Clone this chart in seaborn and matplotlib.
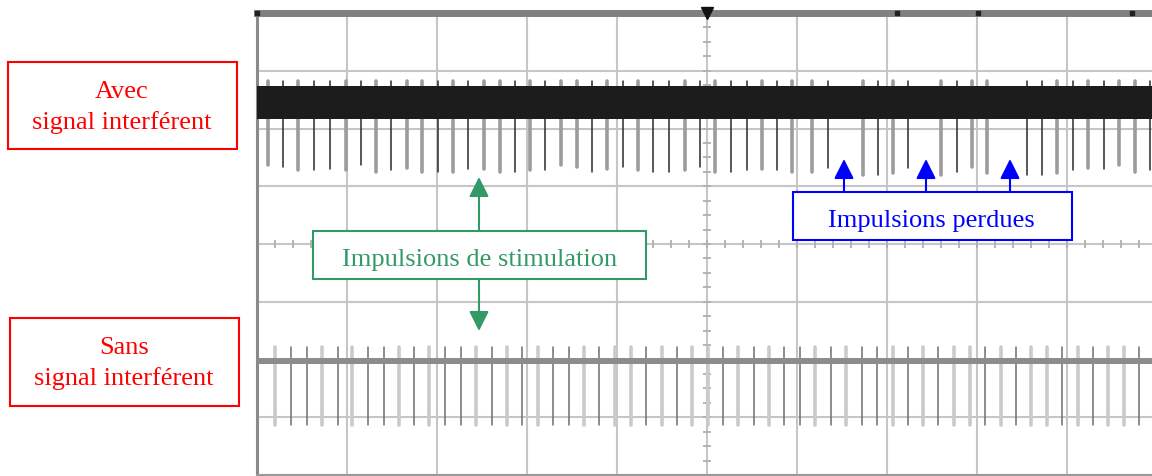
"""
Écran d'oscilloscope : impulsions de stimulation avec / sans signal interférent.
"""

import matplotlib.pyplot as plt
import numpy as np
import pandas as pd
import seaborn as sns
from matplotlib.patches import Rectangle

# ---- données lues sur l'écran (unités : divisions) ----
# trace du haut (avec signal interférent)
top_t = [0.12, 0.29, 0.46, 0.63, 0.81, 0.99, 1.16, 1.32, 1.49, 1.67,
         1.83, 2.01, 2.18, 2.34, 2.52, 2.70, 2.87, 3.03, 3.20, 3.38,
         3.56, 3.72, 3.89, 4.07, 4.23, 4.40, 4.58, 4.76, 4.92, 5.09,
         5.27, 5.44, 5.61, 5.78, 5.94, 6.17, 6.34, 6.73, 6.90, 7.07,
         7.23, 7.60, 7.78, 7.94, 8.11, 8.56, 8.72, 8.89, 9.07, 9.23,
         9.41, 9.58, 9.76, 9.92]
top_kind = list("gbgbbgbgbggbgbggbgbggbgbgbbgbgbbgbggbgbgbgbggbbgbgbggb")
top_low = [1.37, 1.33, 1.28, 1.28, 1.30, 1.28, 1.37, 1.25, 1.28, 1.32,
           1.25, 1.25, 1.25, 1.30, 1.30, 1.25, 1.25, 1.28, 1.28, 1.37,
           1.33, 1.25, 1.30, 1.33, 1.28, 1.25, 1.25, 1.28, 1.33, 1.25,
           1.25, 1.28, 1.30, 1.28, 1.25, 1.25, 1.32, 1.19, 1.19, 1.23,
           1.32, 1.19, 1.25, 1.33, 1.23, 1.19, 1.19, 1.23, 1.28, 1.32,
           1.30, 1.37, 1.25, 1.28]
top_high = 2.83
band_low, band_high = 2.16, 2.73

# trace du bas (sans signal interférent)
bot_t = [0.20, 0.38, 0.56, 0.72, 0.90, 1.06, 1.23, 1.41, 1.58, 1.74,
         1.91, 2.09, 2.27, 2.43, 2.61, 2.78, 2.94, 3.12, 3.29, 3.47,
         3.63, 3.80, 3.98, 4.16, 4.32, 4.50, 4.67, 4.83, 5.01, 5.18,
         5.34, 5.52, 5.69, 5.86, 6.03, 6.20, 6.38, 6.54, 6.72, 6.89,
         7.07, 7.23, 7.40, 7.57, 7.74, 7.92, 8.09, 8.27, 8.43, 8.60,
         8.78, 8.94, 9.12, 9.29, 9.46, 9.63, 9.80]
bot_kind = list("gbbgbgbbgbgbbgbgbgbbgbggbgbggbgbgbbgbgbbgbgbggbgbggbgbggb")
bot_high, bot_low = -1.78, -3.13
bot_line = -2.02

# petits repères sur le bord supérieur de l'écran
mark_t = [0.0, 7.11, 8.01, 9.72]


def pulses_frame(t, kind, low, high, trace):
    rows = []
    for i, (x, k) in enumerate(zip(t, kind)):
        lo = low[i] if isinstance(low, list) else low
        rows.append((f"{trace}{i}", x, lo, k))
        rows.append((f"{trace}{i}", x, high, k))
    return pd.DataFrame(rows, columns=["id", "t", "v", "kind"])


sns.set_style("white")
plt.rcParams["font.family"] = ["Liberation Serif", "DejaVu Serif"]

fig = plt.figure(figsize=(11.52, 4.76), dpi=100)
ax = fig.add_axes([257 / 1152, 1 / 476, 900 / 1152, 462 / 476])
ax.set_xlim(0, 10)
ax.set_ylim(-4, 4)

# graticule
ax.set_xticks(range(11))
ax.set_yticks(range(-4, 5))
ax.grid(True, color="#c6c6c6", lw=1.5)
ax.set_axisbelow(True)
ax.tick_params(length=0, labelbottom=False, labelleft=False)
sub_x = np.arange(0, 10.01, 0.2)
sub_y = np.arange(-4, 4.01, 0.25)
ax.plot(sub_x, np.zeros_like(sub_x), ls="none", marker="|", ms=6, mew=1.3, color="#b0b0b0", zorder=1)
ax.plot(np.full_like(sub_y, 5), sub_y, ls="none", marker="_", ms=6, mew=1.3, color="#b0b0b0", zorder=1)

for s in ["right"]:
    ax.spines[s].set_visible(False)
ax.spines["left"].set(color="#8a8a8a", lw=2.2)
ax.spines["top"].set(color="#808080", lw=5)
ax.spines["bottom"].set(color="#9a9a9a", lw=1.5)

# impulsions
top_df = pulses_frame(top_t, top_kind, top_low, top_high, "h")
bot_df = pulses_frame(bot_t, bot_kind, bot_low, bot_high, "b")

sns.lineplot(data=top_df, x="t", y="v", units="id", estimator=None, sort=False,
             hue="kind", size="kind", palette={"g": "#9c9c9c", "b": "#2a2a2a"},
             sizes={"g": 2.6, "b": 1.1}, legend=False, ax=ax, zorder=2)
sns.lineplot(data=bot_df, x="t", y="v", units="id", estimator=None, sort=False,
             hue="kind", size="kind", palette={"g": "#cacaca", "b": "#6e6e6e"},
             sizes={"g": 2.6, "b": 1.1}, legend=False, ax=ax, zorder=2)

# signal interférent (bande noire) et ligne de base du bas
ax.axhspan(band_low, band_high, color="#1c1c1c", lw=0, zorder=3)
ax.axhline(bot_line, color="#8c8c8c", lw=4.3, zorder=3)
ax.set_xlabel("")
ax.set_ylabel("")

ax.plot([5], [4], marker="v", ms=9, color="#111111", clip_on=False, zorder=5)
ax.plot(mark_t, [4] * len(mark_t), ls="none", marker="s", ms=2.5, color="#222222", clip_on=False, zorder=5)

# annotations (coordonnées en pixels de l'image)
ov = fig.add_axes([0, 0, 1, 1])
ov.set_xlim(0, 1152)
ov.set_ylim(476, 0)
ov.axis("off")
ov.patch.set_alpha(0)

red = "#ff0000"
green = "#339966"
blue = "#0000ff"
fs = 19

ov.add_patch(Rectangle((8, 62), 229, 87, fill=True, fc="white", ec=red, lw=1.5))
ov.text(122, 98, "Avec", color=red, fontsize=fs, ha="center", va="baseline")
ov.text(122, 129, "signal interférent", color=red, fontsize=fs, ha="center", va="baseline")

ov.add_patch(Rectangle((10, 318), 229, 88, fill=True, fc="white", ec=red, lw=1.5))
ov.text(124, 354, "Sans", color=red, fontsize=fs, ha="center", va="baseline")
ov.text(124, 385, "signal interférent", color=red, fontsize=fs, ha="center", va="baseline")

ov.add_patch(Rectangle((313, 231), 333, 48, fill=True, fc="white", ec=green, lw=1.5))
ov.text(480, 266, "Impulsions de stimulation", color=green, fontsize=fs, ha="center", va="baseline")

ov.add_patch(Rectangle((793, 192), 279, 48, fill=True, fc="white", ec=blue, lw=1.5))
ov.text(931, 227, "Impulsions perdues", color=blue, fontsize=fs, ha="center", va="baseline")

arrow = dict(arrowstyle="-|>,head_length=0.6,head_width=0.3", mutation_scale=20,
             lw=1.5, shrinkA=0, shrinkB=0)
ov.annotate("", xy=(479, 177), xytext=(479, 231), arrowprops=dict(arrow, color=green))
ov.annotate("", xy=(479, 331), xytext=(479, 279), arrowprops=dict(arrow, color=green))
for x in [844, 926, 1010]:
    ov.annotate("", xy=(x, 159), xytext=(x, 192), arrowprops=dict(arrow, color=blue))

plt.savefig("out.png", dpi=100)
